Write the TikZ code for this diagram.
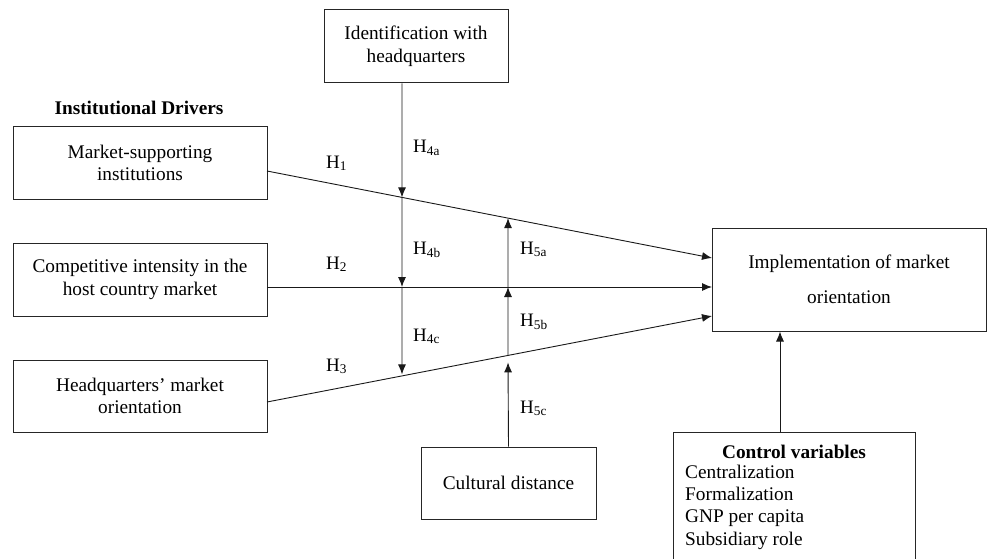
\documentclass[tikz,border=0pt]{standalone}
\usepackage{fontspec}
\setmainfont{Liberation Serif}
\usetikzlibrary{arrows.meta,calc}
\begin{document}
\begin{tikzpicture}[x=1pt,y=-1pt,
  box/.style={draw=black!85,line width=1pt,rectangle,inner sep=0pt,align=center,
    font=\fontsize{19.3}{22.5}\selectfont},
  lab/.style={anchor=base west,inner sep=0pt,font=\fontsize{19}{20}\selectfont},
  ln/.style={line width=0.9pt,black!90},
  arr/.style={ln,-{Latex[length=10pt,width=8pt]}}]
\useasboundingbox (0,0) rectangle (988,559);
\clip (0,0) rectangle (988,559);
\fill[white] (0,0) rectangle (988,559);
% boxes
\node[box,minimum width=184pt,minimum height=73pt] (id) at (416,46.5) {Identification with\\headquarters};
\node[box,minimum width=254pt,minimum height=72pt] (msi) at (140,163) {Market-supporting\\institutions};
\node[box,minimum width=254pt,minimum height=73pt] (ci) at (140,279.5) {Competitive intensity in the\\host country market};
\node[box,minimum width=254pt,minimum height=72pt] (hq) at (140,396) {Headquarters’ market\\orientation};
\node[box,minimum width=274pt,minimum height=103pt,font=\fontsize{19.3}{35}\selectfont] (impl) at (849,279.5) {Implementation of market\\orientation};
\node[box,minimum width=175pt,minimum height=72pt] (cd) at (508.5,483) {Cultural distance};
\node[box,minimum width=242pt,minimum height=140pt] (cv) at (794,502) {};
\node[inner sep=0pt,font=\fontsize{19.3}{22}\selectfont\bfseries] (cvt) at (794,452) {Control variables};
\node[anchor=west,inner sep=0pt,align=left,font=\fontsize{19.3}{22.3}\selectfont] (cvl) at (685,507) {Centralization\\Formalization\\GNP per capita\\Subsidiary role};
\node[inner sep=0pt,font=\fontsize{19.3}{20}\selectfont\bfseries] (drv) at (139,108) {Institutional Drivers};
% endpoints
\coordinate (s1) at (267,171);
\coordinate (e1) at (712,258);
\coordinate (s2) at (267,287);
\coordinate (e2) at (712,287);
\coordinate (s3) at (267,402);
\coordinate (e3) at (712,316);
\coordinate (vtop) at (402,83);
\coordinate (vbot) at (402,600);
\coordinate (wtop) at (508,0);
\coordinate (wbot) at (508,447);
\coordinate (a1) at (intersection of s1--e1 and vtop--vbot);
\coordinate (a2) at (intersection of s2--e2 and vtop--vbot);
\coordinate (a3) at (intersection of s3--e3 and vtop--vbot);
\coordinate (b1) at (intersection of s1--e1 and wtop--wbot);
\coordinate (b2) at (intersection of s2--e2 and wtop--wbot);
\coordinate (b3) at (intersection of s3--e3 and wtop--wbot);
\coordinate (cvtop) at (780,432);
% main paths
\draw[arr] (s1) -- (e1);
\draw[arr] (s2) -- (e2);
\draw[arr] (s3) -- (e3);
% identification moderator
\draw[arr] (id.south -| vtop) -- (a1);
\draw[arr] (a1) -- (a2);
\draw[arr] (a2) -- ([yshift=1.5pt]a3);
% cultural distance moderator
\draw[arr,shorten >=7pt] (cd.north) -- (b3);
\draw[arr] (b3) -- (b2);
\draw[arr] (b2) -- (b1);
% control
\draw[arr] (cvtop) -- (cvtop |- impl.south);
% labels
\node[lab] (h1) at (326,168) {H\textsubscript{1}};
\node[lab] (h2) at (326,269) {H\textsubscript{2}};
\node[lab] (h3) at (326,371) {H\textsubscript{3}};
\node[lab] (h4a) at (413,153) {H\textsubscript{4a}};
\node[lab] (h4b) at (413,254) {H\textsubscript{4b}};
\node[lab] (h4c) at (413,341) {H\textsubscript{4c}};
\node[lab] (h5a) at (520,254) {H\textsubscript{5a}};
\node[lab] (h5b) at (520,326) {H\textsubscript{5b}};
\node[lab] (h5c) at (520,413) {H\textsubscript{5c}};
\end{tikzpicture}
\end{document}
